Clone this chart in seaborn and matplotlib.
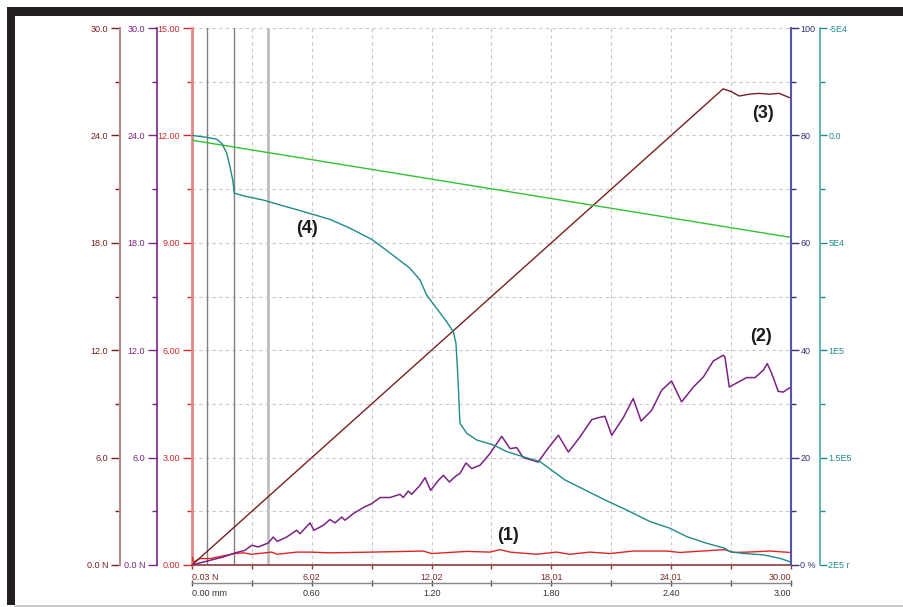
import matplotlib
matplotlib.use("Agg")
import matplotlib.pyplot as plt
from matplotlib.patches import Rectangle
from matplotlib.lines import Line2D
import seaborn as sns

# ---- series data (x in test units, 0..30) ----
x_force = [0.0, 26.6, 27.0, 27.4, 27.9, 28.4, 28.9, 29.4, 29.95]
y_force = [0.0, 26.6, 26.45, 26.2, 26.3, 26.35, 26.3, 26.35, 26.1]

x_purple = [0.0, 0.90, 1.57, 2.15, 2.65, 2.99, 3.32, 3.82, 4.07, 4.27, 4.74, 5.24, 5.41,
            5.91, 6.11, 6.58, 6.91, 7.16, 7.50, 7.66, 8.08, 8.58, 9.00, 9.42, 9.92, 10.42,
            10.58, 10.83, 11.00, 11.42, 11.67, 11.95, 12.34, 12.59, 12.89, 13.26, 13.42,
            13.72, 14.01, 14.42, 14.92, 15.51, 15.93, 16.26, 16.59, 16.93, 17.34, 17.76,
            18.35, 18.85, 19.43, 20.02, 20.35, 20.68, 21.02, 21.60, 22.10, 22.49, 23.02,
            23.52, 24.02, 24.52, 25.11, 25.61, 26.11, 26.61, 26.69, 26.91, 27.28, 27.78,
            28.20, 28.61, 28.81, 29.04, 29.36, 29.61, 29.95]
y_purple = [0.0, 0.26, 0.45, 0.67, 0.82, 1.10, 1.01, 1.23, 1.56, 1.32, 1.56, 1.94, 1.75,
            2.35, 1.94, 2.22, 2.54, 2.35, 2.68, 2.50, 2.87, 3.21, 3.43, 3.77, 3.77, 3.95,
            3.77, 4.13, 3.95, 4.45, 4.88, 4.17, 4.73, 5.01, 4.64, 5.01, 5.11,
            5.70, 5.39, 5.57, 6.22, 7.19, 6.50, 6.56, 6.00, 5.89, 5.75, 6.41,
            7.25, 6.31, 7.15, 8.12, 8.23, 8.31, 7.25, 8.23, 9.30, 8.04, 8.64,
            9.76, 10.28, 9.11, 9.94, 10.50, 11.40, 11.72, 11.62, 9.94, 10.17, 10.47,
            10.47, 10.88, 11.25, 10.69, 9.70, 9.66, 9.91]

x_red = [0.0, 0.07, 0.40, 0.90, 2.15, 2.57, 2.99, 3.99, 4.27, 5.24, 5.91, 6.91, 9.00,
         11.58, 12.00, 13.76, 14.92, 15.43, 15.93, 17.26, 18.26, 18.93, 19.93, 20.93,
         22.10, 23.77, 24.44, 26.11, 26.69, 27.11, 27.78, 28.95, 29.95]
y_red = [0.22, 0.08, 0.18, 0.18, 0.32, 0.34, 0.30, 0.36, 0.30, 0.36, 0.36, 0.34, 0.36,
         0.39, 0.32, 0.38, 0.36, 0.43, 0.36, 0.30, 0.36, 0.30, 0.36, 0.32,
         0.39, 0.39, 0.35, 0.41, 0.43, 0.35, 0.36, 0.39, 0.35]

x_teal = [0.0, 0.74, 1.24, 1.49, 1.74, 1.90, 2.04, 2.12, 2.74, 3.57, 4.41, 5.41, 6.91,
          7.91, 9.00, 9.83, 10.92, 11.42, 11.75, 12.25, 12.75, 13.09, 13.22, 13.29,
          13.36, 13.42, 13.76, 14.26, 15.09, 15.76, 16.59, 17.43, 18.68, 20.68, 21.77,
          22.94, 23.94, 24.78, 25.78, 26.69, 26.94, 27.61, 28.61, 29.45, 29.95]
y_teal = [0.0, 0.09, 0.18, 0.37, 0.83, 1.46, 2.07, 2.69, 2.85, 3.01, 3.24, 3.50, 3.91,
          4.32, 4.84, 5.41, 6.19, 6.73, 7.43, 8.05, 8.67, 9.14, 9.68, 10.77,
          12.16, 13.40, 13.87, 14.18, 14.41, 14.72, 14.96, 15.19, 16.04, 16.97, 17.44,
          17.98, 18.29, 18.68, 18.99, 19.22, 19.38, 19.46, 19.53, 19.69, 19.85]  # x1E4

x_green = [0.0, 30.0]
y_green = [79.1, 61.0]  # %

cursor_x = [0.75, 2.1, 3.8]

# ---- axis labels ----
force_ticks = [0, 6, 12, 18, 24, 30]
force_labels = ["0.0 N", "6.0", "12.0", "18.0", "24.0", "30.0"]
red_ticks = [0, 3, 6, 9, 12, 15]
red_labels = ["0.00", "3.00", "6.00", "9.00", "12.00", "15.00"]
pct_ticks = [0, 20, 40, 60, 80, 100]
pct_labels = ["0 %", "20", "40", "60", "80", "100"]
teal_ticks = [-5, 0, 5, 10, 15, 20]
teal_labels = ["-5E4", "0.0", "5E4", "1E5", "1.5E5", "2E5 r"]
x_ticks = [0, 6, 12, 18, 24, 30]
x_labels = ["0.03 N", "6.02", "12.02", "18.01", "24.01", "30.00"]
mm_ticks = [0.0, 0.6, 1.2, 1.8, 2.4, 3.0]
mm_labels = ["0.00 mm", "0.60", "1.20", "1.80", "2.40", "3.00"]

# ---- colours ----
C_BROWN = "#7a1f1f"
C_BROWN_SP = "#b48c8c"
C_PURPLE = "#7b2286"
C_RED = "#e02424"
C_RED_LBL = "#cc2b2b"
C_RED_SP = "#e88484"
C_BLUE = "#33337a"
C_BLUE_SP = "#5656a8"
C_TEAL = "#1f8a8a"
C_TEAL_SP = "#48a8a8"
C_GREEN = "#33c033"

sns.set_style("white")
plt.rcParams["font.family"] = ["Liberation Sans", "DejaVu Sans"]

W, H = 904, 607
fig = plt.figure(figsize=(W / 100, H / 100), dpi=100)
fig.patch.set_facecolor("white")

L, R, T, B = 192, 791, 28, 565
ax = fig.add_axes([L / W, (H - B) / H, (R - L) / W, (B - T) / H])
PX = 72 / 100  # points per pixel
TS = 6.5


def only_spine(a, side):
    for s in a.spines.values():
        s.set_visible(False)
    a.spines[side].set_visible(True)


# main axis: red scale on the plot's left edge
ax.set_xlim(0, 30)
ax.set_ylim(0, 15)
ax.set_facecolor("none")
for s in ["top", "right"]:
    ax.spines[s].set_visible(False)
ax.spines["left"].set_color(C_RED_SP)
ax.spines["left"].set_linewidth(2)
ax.spines["bottom"].set_color("#8c3b3b")
ax.spines["bottom"].set_linewidth(1.2)
ax.set_yticks(red_ticks, labels=red_labels)
ax.set_yticks([1.5, 4.5, 7.5, 10.5, 13.5], minor=True)
ax.tick_params(axis="y", which="major", left=True, length=9 * PX, width=1, color=C_RED_LBL,
               labelcolor=C_RED_LBL, labelsize=TS, pad=2)
ax.tick_params(axis="y", which="minor", left=True, length=5 * PX, width=1, color=C_RED_LBL)
ax.set_xticks(x_ticks, labels=x_labels)
ax.set_xticks([3, 9, 15, 21, 27], minor=True)
ax.tick_params(axis="x", which="both", bottom=True, length=4 * PX, width=1, color="#8c3b3b",
               labelcolor="#7a2a2a", labelsize=TS, pad=3)
xt = ax.get_xticklabels()
xt[0].set_ha("left")
xt[-1].set_ha("right")
ax.grid(True, which="both", color="#c8c8c8", linestyle=(0, (3, 3)), linewidth=0.8)
ax.set_axisbelow(True)

for i, cx in enumerate(cursor_x):
    ax.axvline(cx, color="#808080" if i < 2 else "#bdbdbd", linewidth=1 if i < 2 else 2, zorder=1)

sns.lineplot(x=x_red, y=y_red, ax=ax, color=C_RED, linewidth=1, legend=False, zorder=3)

# second x scale in mm
sec = ax.secondary_xaxis(-18 / (B - T), functions=(lambda v: v / 10, lambda v: v * 10))
sec.set_xticks(mm_ticks, labels=mm_labels)
sec.set_xticks([0.3, 0.9, 1.5, 2.1, 2.7], minor=True)
sec.spines["bottom"].set_color("#888888")
sec.spines["bottom"].set_linewidth(1)
sec.tick_params(axis="x", which="both", direction="inout", length=6 * PX, width=1,
                color="#555555", labelcolor="#333333", labelsize=TS, pad=2)
st = sec.get_xticklabels()
st[0].set_ha("left")
st[-1].set_ha("right")

# force scale (outer left)
ax_b = ax.twinx()
only_spine(ax_b, "left")
ax_b.spines["left"].set_position(("outward", 72 * PX))
ax_b.spines["left"].set_color(C_BROWN_SP)
ax_b.spines["left"].set_linewidth(1.5)
ax_b.yaxis.set_ticks_position("left")
ax_b.yaxis.set_label_position("left")
ax_b.set_ylim(0, 30)
ax_b.set_yticks(force_ticks, labels=force_labels)
ax_b.set_yticks([3, 9, 15, 21, 27], minor=True)
ax_b.tick_params(axis="y", which="major", length=9 * PX, width=1, color=C_BROWN,
                 labelcolor=C_BROWN, labelsize=TS, pad=2)
ax_b.tick_params(axis="y", which="minor", length=5 * PX, width=1, color=C_BROWN)
sns.lineplot(x=x_force, y=y_force, ax=ax_b, color=C_BROWN, linewidth=1, legend=False)

# purple scale (middle left)
ax_p = ax.twinx()
only_spine(ax_p, "left")
ax_p.spines["left"].set_position(("outward", 35 * PX))
ax_p.spines["left"].set_color(C_PURPLE)
ax_p.spines["left"].set_linewidth(1.2)
ax_p.yaxis.set_ticks_position("left")
ax_p.yaxis.set_label_position("left")
ax_p.set_ylim(0, 30)
ax_p.set_yticks(force_ticks, labels=force_labels)
ax_p.set_yticks([3, 9, 15, 21, 27], minor=True)
ax_p.tick_params(axis="y", which="major", length=9 * PX, width=1, color=C_PURPLE,
                 labelcolor=C_PURPLE, labelsize=TS, pad=2)
ax_p.tick_params(axis="y", which="minor", length=5 * PX, width=1, color=C_PURPLE)
sns.lineplot(x=x_purple, y=y_purple, ax=ax_p, color=C_PURPLE, linewidth=1.1, legend=False)

# percent scale (plot's right edge)
ax_bl = ax.twinx()
only_spine(ax_bl, "right")
ax_bl.spines["right"].set_color(C_BLUE_SP)
ax_bl.spines["right"].set_linewidth(1.5)
ax_bl.set_ylim(0, 100)
ax_bl.set_yticks(pct_ticks, labels=pct_labels)
ax_bl.set_yticks([10, 30, 50, 70, 90], minor=True)
ax_bl.tick_params(axis="y", which="major", right=True, length=8 * PX, width=1, color=C_BLUE,
                  labelcolor=C_BLUE, labelsize=TS, pad=1)
ax_bl.tick_params(axis="y", which="minor", right=True, length=5 * PX, width=1, color=C_BLUE)
sns.lineplot(x=x_green, y=y_green, ax=ax_bl, color=C_GREEN, linewidth=1, legend=False)

# teal scale (outer right, inverted)
ax_t = ax.twinx()
only_spine(ax_t, "right")
ax_t.spines["right"].set_position(("outward", 29 * PX))
ax_t.spines["right"].set_color(C_TEAL_SP)
ax_t.spines["right"].set_linewidth(1.2)
ax_t.set_ylim(20, -5)
ax_t.set_yticks(teal_ticks, labels=teal_labels)
ax_t.set_yticks([-2.5, 2.5, 7.5, 12.5, 17.5], minor=True)
ax_t.tick_params(axis="y", which="major", right=True, length=7 * PX, width=1, color=C_TEAL,
                 labelcolor=C_TEAL, labelsize=TS, pad=1)
ax_t.tick_params(axis="y", which="minor", right=True, length=5 * PX, width=1, color=C_TEAL)
sns.lineplot(x=x_teal, y=y_teal, ax=ax_t, color=C_TEAL, linewidth=1, legend=False)

for a in [ax_b, ax_p, ax_bl, ax_t]:
    a.set_xlim(0, 30)
    a.set_xlabel("")
    a.set_ylabel("")
    a.tick_params(axis="x", which="both", bottom=False, labelbottom=False)
ax.set_xlabel("")
ax.set_ylabel("")

# curve callouts (positions in the force scale)
for txt, tx, ty in [("(1)", 15.83, 1.66), ("(2)", 28.5, 12.78),
                    ("(3)", 28.6, 25.24), ("(4)", 5.76, 18.81)]:
    ax_b.text(tx, ty, txt, ha="center", va="center", fontsize=13,
              fontweight="bold", color="#1a1a1a", zorder=6)

# window frame
fig.add_artist(Rectangle((7 / W, (H - 16) / H), (W - 7) / W, 9 / H,
                         transform=fig.transFigure, facecolor="#231f20", edgecolor="none"))
fig.add_artist(Rectangle((7 / W, (H - 605) / H), 8 / W, (605 - 7) / H,
                         transform=fig.transFigure, facecolor="#231f20", edgecolor="none"))
fig.add_artist(Line2D([15 / W, 1], [(H - 605.5) / H] * 2, transform=fig.transFigure,
                      color="#c8c8c8", linewidth=1.5))

fig.savefig("out.png", dpi=100, facecolor="white")
